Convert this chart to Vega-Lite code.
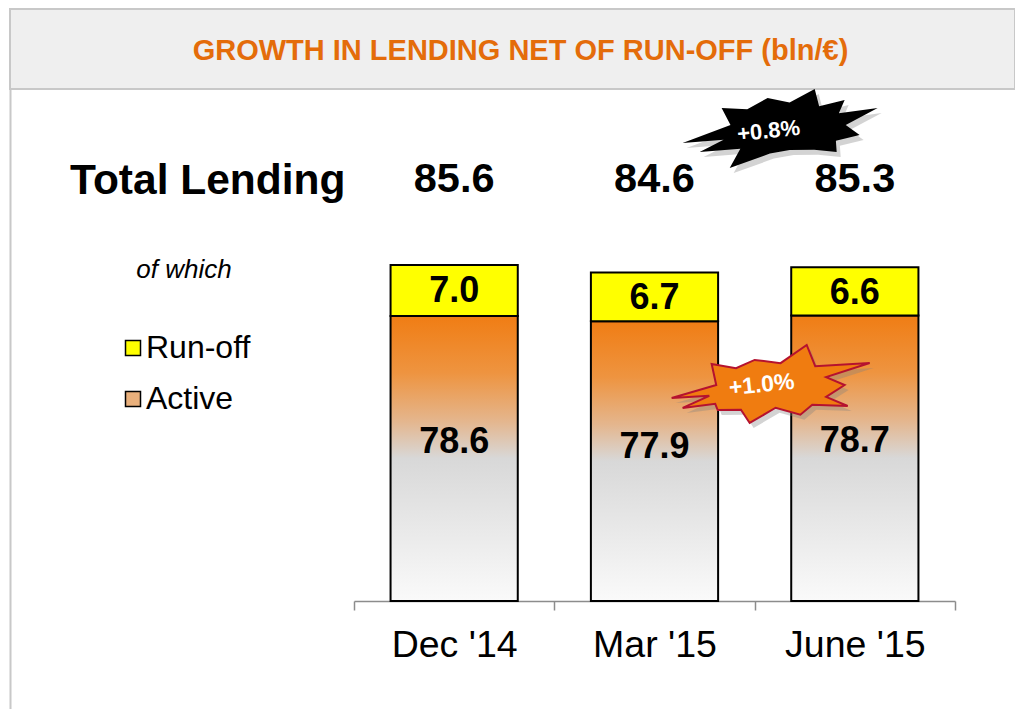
{
  "$schema": "https://vega.github.io/schema/vega-lite/v6.json",
  "width": 1005,
  "height": 700,
  "autosize": {"type": "none"},
  "padding": {"left": 10, "top": 9, "right": 0, "bottom": 0},
  "background": "white",
  "config": {"view": {"stroke": null}, "font": "Liberation Sans"},
  "data": {"values": [
    {"period": "Dec '14", "total": 85.6, "active": 78.6, "runoff": 7.0},
    {"period": "Mar '15", "total": 84.6, "active": 77.9, "runoff": 6.7},
    {"period": "June '15", "total": 85.3, "active": 78.7, "runoff": 6.6}
  ]},
  "layer": [
    {
      "mark": {"type": "bar", "stroke": "black", "strokeWidth": 2, "opacity": 1, "width": {"band": 0.635},
        "fill": {"gradient": "linear", "x1": 0, "y1": 0, "x2": 0, "y2": 1, "stops": [{"offset": 0, "color": "#F07D14"}, {"offset": 0.2, "color": "#EE9440"}, {"offset": 0.37, "color": "#E4B68E"}, {"offset": 0.5, "color": "#D8D8D8"}, {"offset": 1, "color": "#FAFAFA"}]}},
      "encoding": {
        "x": {
          "field": "period", "type": "nominal", "sort": null,
          "scale": {"domain": ["Dec '14", "Mar '15", "June '15"], "range": [344, 945], "paddingInner": 0, "paddingOuter": 0},
          "axis": {"title": null, "labelFontSize": 37.5, "labelColor": "black", "labelFont": "Liberation Sans", "labelAngle": 0, "labelPadding": 16, "tickBand": "extent", "tickSize": 9, "tickColor": "#8C8C8C", "tickWidth": 1.5, "domainColor": "#8C8C8C", "domainWidth": 1.5, "offset": -108, "grid": false}
        },
        "y": {
          "field": "active", "type": "quantitative",
          "scale": {"domain": [24.677, 120.752], "zero": false, "nice": false},
          "axis": {"title": "Total Lending", "titleAngle": 0, "titleX": 335, "titleY": 171, "titleAlign": "right", "titleBaseline": "middle", "titleFontSize": 42.5, "titleFontWeight": "bold", "titleColor": "black", "titleFont": "Liberation Sans", "labels": false, "ticks": false, "grid": false, "domain": true, "domainColor": "#C8C8C8", "domainWidth": 2}
        },
        "y2": {"datum": 39.5}
      }
    },
    {
      "data": {"values": [{"band": "header"}]},
      "mark": {"type": "rect", "fill": "#EFEFEF", "stroke": "#C8C8C8", "strokeWidth": 2},
      "encoding": {
        "y": {"datum": 120.752, "type": "quantitative"},
        "y2": {"datum": 109.77}
      }
    },
    {
      "data": {"values": [{"title": "GROWTH IN LENDING NET OF RUN-OFF (bln/€)"}]},
      "mark": {"type": "text", "fontSize": 29, "fontWeight": "bold", "color": "#E46C0A", "dx": 8, "baseline": "middle", "align": "center"},
      "encoding": {
        "text": {"field": "title"},
        "y": {"datum": 114.92, "type": "quantitative"}
      }
    },
    {
      "data": {"values": [{"series": "Run-off"}, {"series": "Active"}]},
      "mark": {"type": "square", "opacity": 0, "size": 1},
      "encoding": {
        "color": {
          "field": "series", "type": "nominal",
          "scale": {"domain": ["Run-off", "Active"], "range": ["#FFFF00", "#E9B07C"]},
          "legend": {"title": "of which", "orient": "none", "legendX": 107, "legendY": 248, "symbolType": "square", "symbolSize": 225, "symbolStrokeColor": "black", "symbolStrokeWidth": 1.5, "symbolOpacity": 1, "labelFontSize": 32, "labelFont": "Liberation Sans", "labelColor": "black", "labelOffset": -3, "rowPadding": 19, "titleFontSize": 26, "titleFont": "Liberation Sans", "titleFontStyle": "italic", "titleFontWeight": "normal", "titleColor": "black", "titlePadding": 49, "titleAnchor": "middle", "padding": 0}
        }
      }
    },
    {
      "mark": {"type": "bar", "stroke": "black", "strokeWidth": 2, "opacity": 1, "fill": "#FFFF00", "width": {"band": 0.635}},
      "encoding": {
        "x": {"field": "period", "type": "nominal", "sort": null},
        "y": {"field": "total", "type": "quantitative"},
        "y2": {"field": "active"}
      }
    },
    {
      "mark": {"type": "text", "fontSize": 41.5, "fontWeight": "bold", "color": "black", "baseline": "middle"},
      "encoding": {
        "x": {"field": "period", "type": "nominal", "sort": null},
        "y": {"datum": 97.28, "type": "quantitative"},
        "text": {"field": "total", "type": "quantitative", "format": ".1f"}
      }
    },
    {
      "mark": {"type": "text", "fontSize": 36, "fontWeight": "bold", "color": "black", "baseline": "middle", "dy": 26},
      "encoding": {
        "x": {"field": "period", "type": "nominal", "sort": null},
        "y": {"field": "total", "type": "quantitative"},
        "text": {"field": "runoff", "type": "quantitative", "format": ".1f"}
      }
    },
    {
      "mark": {"type": "text", "fontSize": 36, "fontWeight": "bold", "color": "black", "baseline": "middle", "dy": 126},
      "encoding": {
        "x": {"field": "period", "type": "nominal", "sort": null},
        "y": {"field": "active", "type": "quantitative"},
        "text": {"field": "active", "type": "quantitative", "format": ".1f"}
      }
    },
    {
      "data": {"values": [{"change": "+0.8%"}]},
      "mark": {"type": "point", "shape": "M-1.036,0.152 L-0.55,-0.03 L-0.64,-0.203 L-0.38,-0.19 L-0.173,-0.305 L0.05,-0.26 L0.305,-0.396 L0.35,-0.22 L0.609,-0.284 L0.55,-0.15 L0.944,-0.203 L0.62,-0.03 L0.761,0.071 L0.52,0.13 L0.528,0.244 L0.3,0.22 L0.051,0.223 L-0.15,0.26 L-0.558,0.406 L-0.45,0.21 L-0.863,0.244 L-0.62,0.12 Z", "filled": true, "fill": "#808080", "opacity": 0.35, "size": 38809, "xOffset": 34, "yOffset": 5},
      "encoding": {
        "x": {"datum": "June '15", "type": "nominal", "bandPosition": 0},
        "y": {"datum": 104.42, "type": "quantitative"}
      }
    },
    {
      "data": {"values": [{"change": "+0.8%"}]},
      "mark": {"type": "point", "shape": "M-1.036,0.152 L-0.55,-0.03 L-0.64,-0.203 L-0.38,-0.19 L-0.173,-0.305 L0.05,-0.26 L0.305,-0.396 L0.35,-0.22 L0.609,-0.284 L0.55,-0.15 L0.944,-0.203 L0.62,-0.03 L0.761,0.071 L0.52,0.13 L0.528,0.244 L0.3,0.22 L0.051,0.223 L-0.15,0.26 L-0.558,0.406 L-0.45,0.21 L-0.863,0.244 L-0.62,0.12 Z", "filled": true, "fill": "black", "opacity": 1, "size": 38809, "xOffset": 30},
      "encoding": {
        "x": {"datum": "June '15", "type": "nominal", "bandPosition": 0},
        "y": {"datum": 104.42, "type": "quantitative"}
      }
    },
    {
      "data": {"values": [{"change": "+0.8%"}]},
      "mark": {"type": "text", "fontSize": 22, "fontWeight": "bold", "color": "white", "baseline": "middle", "angle": 354, "xOffset": 14},
      "encoding": {
        "x": {"datum": "June '15", "type": "nominal", "bandPosition": 0},
        "y": {"datum": 104.0, "type": "quantitative"},
        "text": {"field": "change"}
      }
    },
    {
      "data": {"values": [{"change": "+1.0%"}]},
      "mark": {"type": "point", "shape": "M-1.0,0.131 L-0.55,0.0 L-0.596,-0.212 L-0.35,-0.17 L-0.162,-0.253 L0.1,-0.22 L0.364,-0.404 L0.45,-0.19 L1.0,-0.222 L0.56,-0.08 L0.747,0.0 L0.56,0.12 L0.778,0.212 L0.42,0.2 L0.3,0.3 L0.05,0.23 L-0.212,0.384 L-0.3,0.25 L-0.535,0.253 L-0.56,0.19 L-0.889,0.232 L-0.62,0.11 Z", "filled": true, "fill": "#808080", "opacity": 0.35, "size": 39204, "xOffset": 20, "yOffset": 5},
      "encoding": {
        "x": {"datum": "June '15", "type": "nominal", "bandPosition": 0},
        "y": {"datum": 69.15, "type": "quantitative"}
      }
    },
    {
      "data": {"values": [{"change": "+1.0%"}]},
      "mark": {"type": "point", "shape": "M-1.0,0.131 L-0.55,0.0 L-0.596,-0.212 L-0.35,-0.17 L-0.162,-0.253 L0.1,-0.22 L0.364,-0.404 L0.45,-0.19 L1.0,-0.222 L0.56,-0.08 L0.747,0.0 L0.56,0.12 L0.778,0.212 L0.42,0.2 L0.3,0.3 L0.05,0.23 L-0.212,0.384 L-0.3,0.25 L-0.535,0.253 L-0.56,0.19 L-0.889,0.232 L-0.62,0.11 Z", "filled": true, "fill": "#F07C10", "stroke": "#B5122F", "strokeWidth": 2, "opacity": 1, "size": 39204, "xOffset": 16},
      "encoding": {
        "x": {"datum": "June '15", "type": "nominal", "bandPosition": 0},
        "y": {"datum": 69.15, "type": "quantitative"}
      }
    },
    {
      "data": {"values": [{"change": "+1.0%"}]},
      "mark": {"type": "text", "fontSize": 23, "fontWeight": "bold", "color": "white", "baseline": "middle", "angle": 354, "xOffset": 7},
      "encoding": {
        "x": {"datum": "June '15", "type": "nominal", "bandPosition": 0},
        "y": {"datum": 69.15, "type": "quantitative"},
        "text": {"field": "change"}
      }
    }
  ]
}
